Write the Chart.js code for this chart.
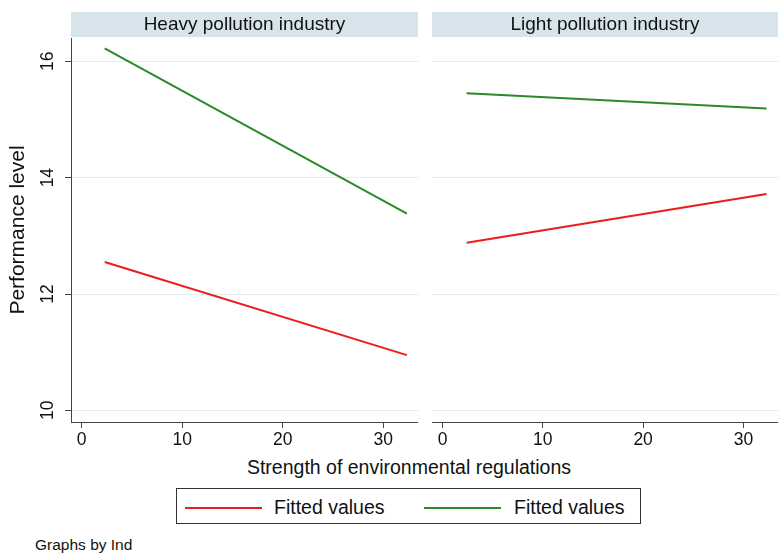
<!DOCTYPE html>
<html>
<head>
<meta charset="utf-8">
<script src="https://cdn.jsdelivr.net/npm/chart.js@4.4.1/dist/chart.umd.min.js"></script>
<style>
  body { margin: 0; background: #fff; font-family: "Liberation Sans", Arial, sans-serif; }
  #wrap { position: relative; width: 778px; height: 554px; overflow: hidden; }
  .panel { position: absolute; top: 0; height: 450px; }
  #xtitle { position: absolute; left: 0; width: 818px; top: 456px; text-align: center; font-size: 19.5px; color: #111; }
  #legend { position: absolute; left: 176px; top: 488px; width: 465px; height: 36px; border: 1px solid #333; box-sizing: border-box; }
  .item { position: absolute; top: 0; height: 36px; line-height: 36px; font-size: 19.5px; color: #111; }
  .swatch { position: absolute; top: 18px; width: 77px; height: 2px; }
  #note { position: absolute; left: 35px; top: 536px; font-size: 15.5px; color: #111; }
</style>
</head>
<body>
<div id="wrap">
  <div class="panel" style="left:0;width:418px"><canvas id="heavy"></canvas></div>
  <div class="panel" style="left:432px;width:346px"><canvas id="light"></canvas></div>
  <div id="xtitle">Strength of environmental regulations</div>
  <div id="legend">
    <div class="swatch" style="left:8px;background:#ee1c1c"></div>
    <div class="item" style="left:97px">Fitted values</div>
    <div class="swatch" style="left:247px;background:#2a8a2a"></div>
    <div class="item" style="left:337px">Fitted values</div>
  </div>
  <div id="note">Graphs by Ind</div>
</div>
<script>
// data
const panels = ['Heavy pollution industry', 'Light pollution industry'];
const heavyX = [2.3, 32.35];
const heavyRed = [12.55, 10.95];
const heavyGreen = [16.22, 13.38];
const lightX = [2.4, 32.3];
const lightRed = [12.88, 13.72];
const lightGreen = [15.45, 15.19];
const xTicks = [0, 10, 20, 30];
const yTicks = [10, 12, 14, 16];

const FONT = '"Liberation Sans", Arial, sans-serif';
const RED = '#ee1c1c';
const GREEN = '#2a8a2a';
const AXIS = '#444';
const GRID = '#e3ecf0';

function pts(xs, ys) { return xs.map((x, i) => ({ x: x, y: ys[i] })); }

// header band above each panel
const headerPlugin = {
    id: 'header',
    beforeDraw(chart, args, opts) {
        const { ctx, chartArea } = chart;
        ctx.save();
        ctx.fillStyle = '#d8e4ec';
        ctx.fillRect(chartArea.left, 12, chartArea.right - chartArea.left, 25);
        ctx.fillStyle = '#111';
        ctx.font = '19px ' + FONT;
        ctx.textAlign = 'center';
        ctx.textBaseline = 'middle';
        ctx.fillText(opts.text, (chartArea.left + chartArea.right) / 2, 25);
        ctx.restore();
    }
};

// stata style vertical y labels
const yLabelPlugin = {
    id: 'ylabels',
    afterDraw(chart, args, opts) {
        if (!opts.show) return;
        const { ctx } = chart;
        const scale = chart.scales.y;
        ctx.save();
        ctx.fillStyle = '#111';
        ctx.font = '17.5px ' + FONT;
        ctx.textAlign = 'center';
        ctx.textBaseline = 'middle';
        scale.ticks.forEach(t => {
            const y = scale.getPixelForValue(t.value);
            ctx.save();
            ctx.translate(48, y);
            ctx.rotate(-Math.PI / 2);
            ctx.fillText(String(t.value), 0, 0);
            ctx.restore();
        });
        ctx.restore();
    }
};

function makePanel(id, title, xs, red, green, withAxis) {
    return new Chart(document.getElementById(id), {
        type: 'line',
        data: {
            datasets: [
                { label: 'Fitted values', data: pts(xs, red), borderColor: RED, borderWidth: 2, pointRadius: 0 },
                { label: 'Fitted values', data: pts(xs, green), borderColor: GREEN, borderWidth: 2, pointRadius: 0 }
            ]
        },
        options: {
            responsive: true,
            maintainAspectRatio: false,
            animation: false,
            layout: { padding: { top: 38, left: 0, right: 0, bottom: 0 } },
            plugins: {
                legend: { display: false },
                tooltip: { enabled: false },
                header: { text: title },
                ylabels: { show: withAxis }
            },
            scales: {
                x: {
                    type: 'linear',
                    min: -1.05,
                    max: 33.45,
                    afterBuildTicks: s => { s.ticks = xTicks.map(v => ({ value: v })); },
                    afterFit: s => { s.height = 28; },
                    grid: { drawOnChartArea: false, drawTicks: true, tickLength: 6, tickColor: AXIS },
                    border: { display: true, color: AXIS, width: 1 },
                    ticks: { color: '#111', padding: 2, font: { family: FONT, size: 17.5 }, maxRotation: 0 }
                },
                y: {
                    min: 9.8,
                    max: 16.4,
                    afterBuildTicks: s => { s.ticks = yTicks.map(v => ({ value: v })); },
                    afterFit: s => { s.width = withAxis ? 71 : 0; },
                    grid: { color: GRID, lineWidth: 1, drawTicks: withAxis, tickLength: 6, tickColor: AXIS },
                    border: { display: withAxis, color: AXIS, width: 1 },
                    ticks: { display: false },
                    title: {
                        display: withAxis,
                        text: 'Performance level',
                        color: '#111',
                        font: { family: FONT, size: 21 },
                        padding: { top: 5.5, bottom: 0 }
                    }
                }
            }
        },
        plugins: [headerPlugin, yLabelPlugin]
    });
}

makePanel('heavy', panels[0], heavyX, heavyRed, heavyGreen, true);
makePanel('light', panels[1], lightX, lightRed, lightGreen, false);
</script>
</body>
</html>
